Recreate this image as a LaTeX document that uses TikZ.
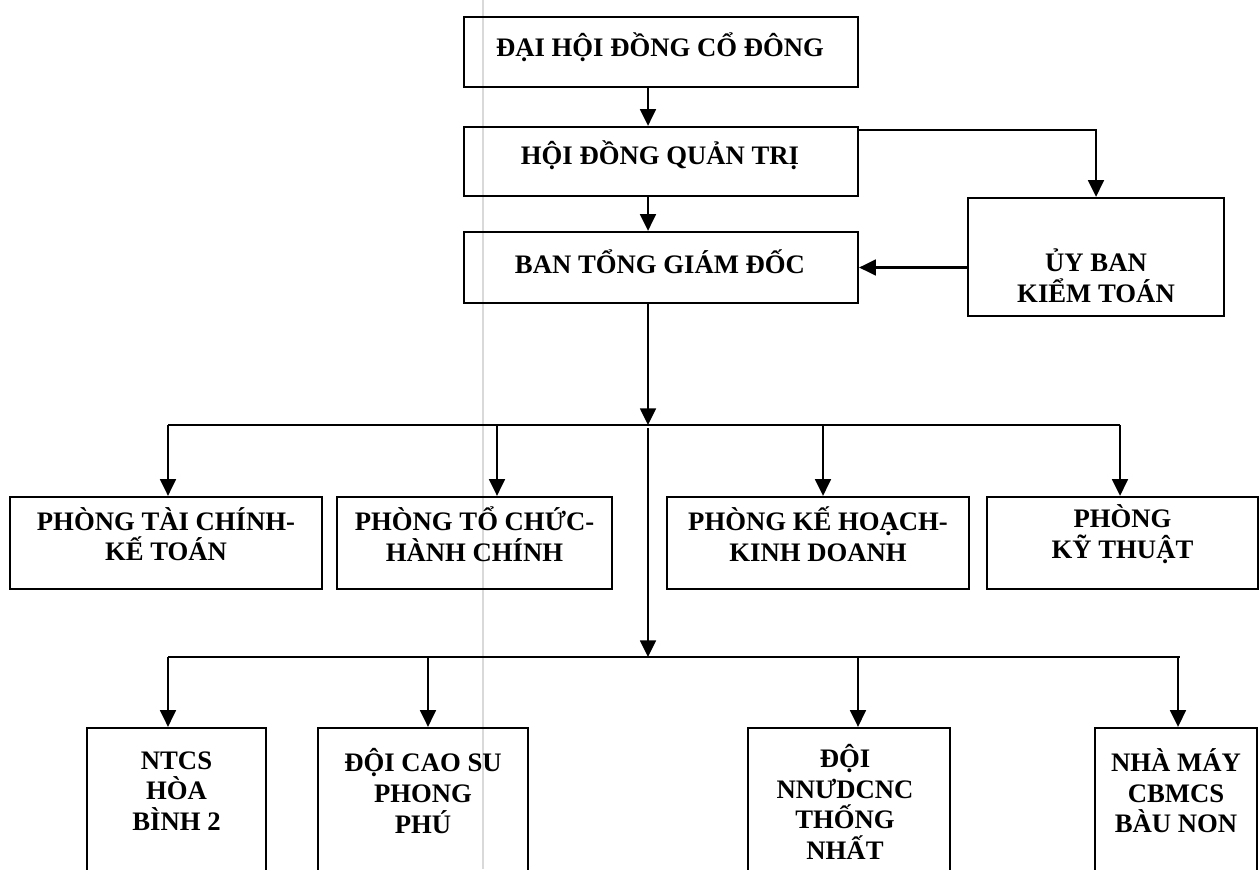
\documentclass[tikz,border=0pt]{standalone}
\usepackage{fontspec}
\setmainfont{Liberation Serif}
\usetikzlibrary{positioning, calc, arrows.meta}
\tikzstyle{Arrow} = [
line width=1.3pt,
-{Triangle[length=9.5pt, width=9pt]}]
\tikzstyle{Line} = [line width=1.3pt]
\tikzstyle{Box} = [
draw, line width=1.3pt, inner sep=0pt]
\tikzstyle{Txt} = [
inner sep=0pt, align=center,
font=\fontsize{15.2}{17.4}\selectfont\bfseries]

\begin{document}
\begin{tikzpicture}[x=0.02cm, y=-0.02cm]
    \useasboundingbox (0,0) rectangle (1260,869);
    \clip (0,0) rectangle (1260,869);
    \fill[white] (0,0) rectangle (1260,869);
    % faint scan line
    \draw[gray!30, line width=0.8pt] (483,0) -- (483,869);

    % top levels
    \node[Box, minimum width=7.88cm, minimum height=1.40cm] (dhdcd) at (661,52) {};
    \node[Txt] (dhdcd-t) at (660,47) {ĐẠI HỘI ĐỒNG CỔ ĐÔNG};
    \node[Box, minimum width=7.88cm, minimum height=1.38cm] (hdqt) at (661,161.5) {};
    \node[Txt] (hdqt-t) at (660,155) {HỘI ĐỒNG QUẢN TRỊ};
    \node[Box, minimum width=7.88cm, minimum height=1.42cm] (btgd) at (661,267.5) {};
    \node[Txt] (btgd-t) at (660,262) {BAN TỔNG GIÁM ĐỐC};
    \node[Box, minimum width=5.12cm, minimum height=2.36cm] (ubkt) at (1096,257) {};
    \node[Txt] (ubkt-t) at (1096,276) {ỦY BAN\\KIỂM TOÁN};

    % phong ban
    \node[Box, minimum width=6.24cm, minimum height=1.84cm] (tckt) at (166,543) {};
    \node[Txt] (tckt-t) at (166,534) {PHÒNG TÀI CHÍNH-\\KẾ TOÁN};
    \node[Box, minimum width=5.50cm, minimum height=1.84cm] (tchc) at (474.5,543) {};
    \node[Txt] (tchc-t) at (474.5,534) {PHÒNG TỔ CHỨC-\\HÀNH CHÍNH};
    \node[Box, minimum width=6.04cm, minimum height=1.84cm] (khkd) at (818,543) {};
    \node[Txt] (khkd-t) at (818,534) {PHÒNG KẾ HOẠCH-\\KINH DOANH};
    \node[Box, minimum width=5.42cm, minimum height=1.84cm] (kt) at (1122.5,543) {};
    \node[Txt] (kt-t) at (1122.5,534) {PHÒNG\\KỸ THUẬT};

    % don vi truc thuoc
    \node[Box, minimum width=3.58cm, minimum height=3.84cm] (ntcs) at (176.5,824) {};
    \node[Txt] (ntcs-t) at (176.5,791) {NTCS\\HÒA\\BÌNH 2};
    \node[Box, minimum width=4.20cm, minimum height=3.84cm] (caosu) at (423,824) {};
    \node[Txt] (caosu-t) at (423,791) {ĐỘI CAO SU\\PHONG\\PHÚ};
    \node[Box, minimum width=4.04cm, minimum height=3.84cm] (nnudcnc) at (849,824) {};
    \node[Txt] (nnudcnc-t) at (845,802) {ĐỘI\\NNƯDCNC\\THỐNG\\NHẤT};
    \node[Box, minimum width=3.24cm, minimum height=3.84cm] (nhamay) at (1176,824) {};
    \node[Txt] (nhamay-t) at (1176,791) {NHÀ MÁY\\CBMCS\\BÀU NON};

    \coordinate (spine) at (648,0);
    \coordinate (bus1) at (0,425);
    \coordinate (bus2) at (0,657);

    \draw[Arrow] (dhdcd.south -| spine) to (hdqt.north -| spine);
    \draw[Arrow] (hdqt.north east) ++(0,4) -| (ubkt.north);
    \draw[Arrow] (hdqt.south -| spine) to (btgd.north -| spine);
    \draw[Arrow] (ubkt.west |- btgd.east) to (btgd.east);

    % nhanh phong ban
    \draw[Arrow] (btgd.south -| spine) to (spine |- bus1);
    \draw[Line] (168,425) -- (1120,425);
    \foreach \x/\n in {168/tckt, 497/tchc, 823/khkd, 1120/kt}{
        \coordinate (tap) at (\x,425);
        \draw[Arrow] (tap) to (tap |- \n.north);
    }

    % nhanh don vi
    \draw[Arrow] ([yshift=-0.06cm]spine |- bus1) to (spine |- bus2);
    \draw[Line] (168,657) -- (1180,657);
    \foreach \x/\n in {168/ntcs, 428/caosu, 858/nnudcnc, 1178/nhamay}{
        \coordinate (tap) at (\x,657);
        \draw[Arrow] (tap) to (tap |- \n.north);
    }
\end{tikzpicture}
\end{document}
